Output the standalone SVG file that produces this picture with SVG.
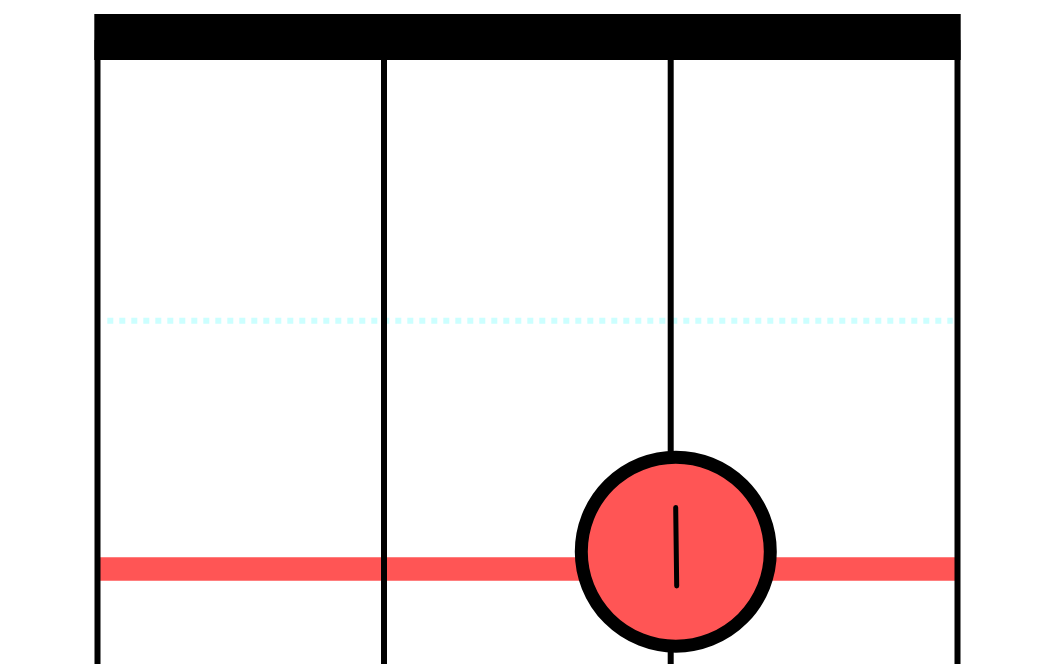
<svg xmlns="http://www.w3.org/2000/svg" width="1056" height="664" viewBox="0 0 1056 664">
  <style>
    .string { stroke: #000000; stroke-width: 6; fill: none; }
    .fret-marker { stroke: #ccffff; stroke-width: 6; stroke-dasharray: 6 6; fill: none; }
    .barre { stroke: #ff5555; stroke-width: 23.5; fill: none; }
    .dot { fill: #ff5555; stroke: #000000; stroke-width: 13; }
    .finger { stroke: #000000; stroke-width: 5; stroke-linecap: round; fill: none; }
  </style>
  <rect width="1056" height="664" fill="#ffffff"/>
  <g id="guides">
    <line class="fret-marker" x1="107.3" y1="320.7" x2="952.7" y2="320.7"/>
  </g>
  <g id="barre">
    <line class="barre" x1="97.5" y1="569" x2="957.5" y2="569"/>
  </g>
  <g id="connectors">
    <line class="string" x1="97.5" y1="40" x2="97.5" y2="664"/>
    <line class="string" x1="384" y1="40" x2="384" y2="664"/>
    <line class="string" x1="670.7" y1="40" x2="670.7" y2="664"/>
    <line class="string" x1="957.5" y1="40" x2="957.5" y2="664"/>
  </g>
  <g id="nut">
    <rect x="94.3" y="14" width="866.4" height="46" fill="#000000"/>
  </g>
  <g id="finger-dot">
    <circle class="dot" cx="675.8" cy="551.7" r="94.5"/>
    <line class="finger" x1="675.7" y1="507.5" x2="676.7" y2="586"/>
  </g>
</svg>
